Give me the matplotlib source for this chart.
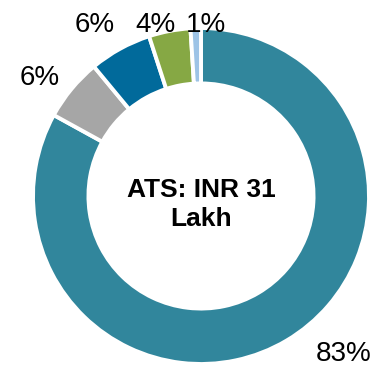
import matplotlib.pyplot as plt

plt.rcParams['font.family'] = ['Liberation Sans', 'DejaVu Sans']

# share of each segment, clockwise from 12 o'clock
shares = [83, 6, 6, 4, 1]
colors = ['#31869c', '#a6a6a6', '#016a9b', '#86a844', '#9dc3e6']
labels = ['83%', '6%', '6%', '4%', '1%']
# where each percentage sits (data units, radius = 1)
label_xy = [(0.85, -0.94), (-0.96, 0.70), (-0.63, 1.02), (-0.27, 1.02), (0.03, 1.02)]

fig = plt.figure(figsize=(3.72, 3.67), dpi=100)
ax = fig.add_axes([0, 0, 1, 1])

ax.pie(shares, colors=colors, startangle=90, counterclock=False, radius=1.0,
       wedgeprops=dict(width=0.33, edgecolor='white', linewidth=2.8))

for lab, (x, y) in zip(labels, label_xy):
    ax.text(x, y, lab, ha='center', va='center', fontsize=20, color='black')

ax.text(0, -0.05, 'ATS: INR 31\nLakh', ha='center', va='center', fontsize=19,
        fontweight='bold', linespacing=1.25)

ax.set_xlim(-201 / 168, (372 - 201) / 168)
ax.set_ylim(-171 / 168, (367 - 171) / 168)
ax.set_aspect('equal')
ax.axis('off')

fig.savefig('out.png', dpi=100)
